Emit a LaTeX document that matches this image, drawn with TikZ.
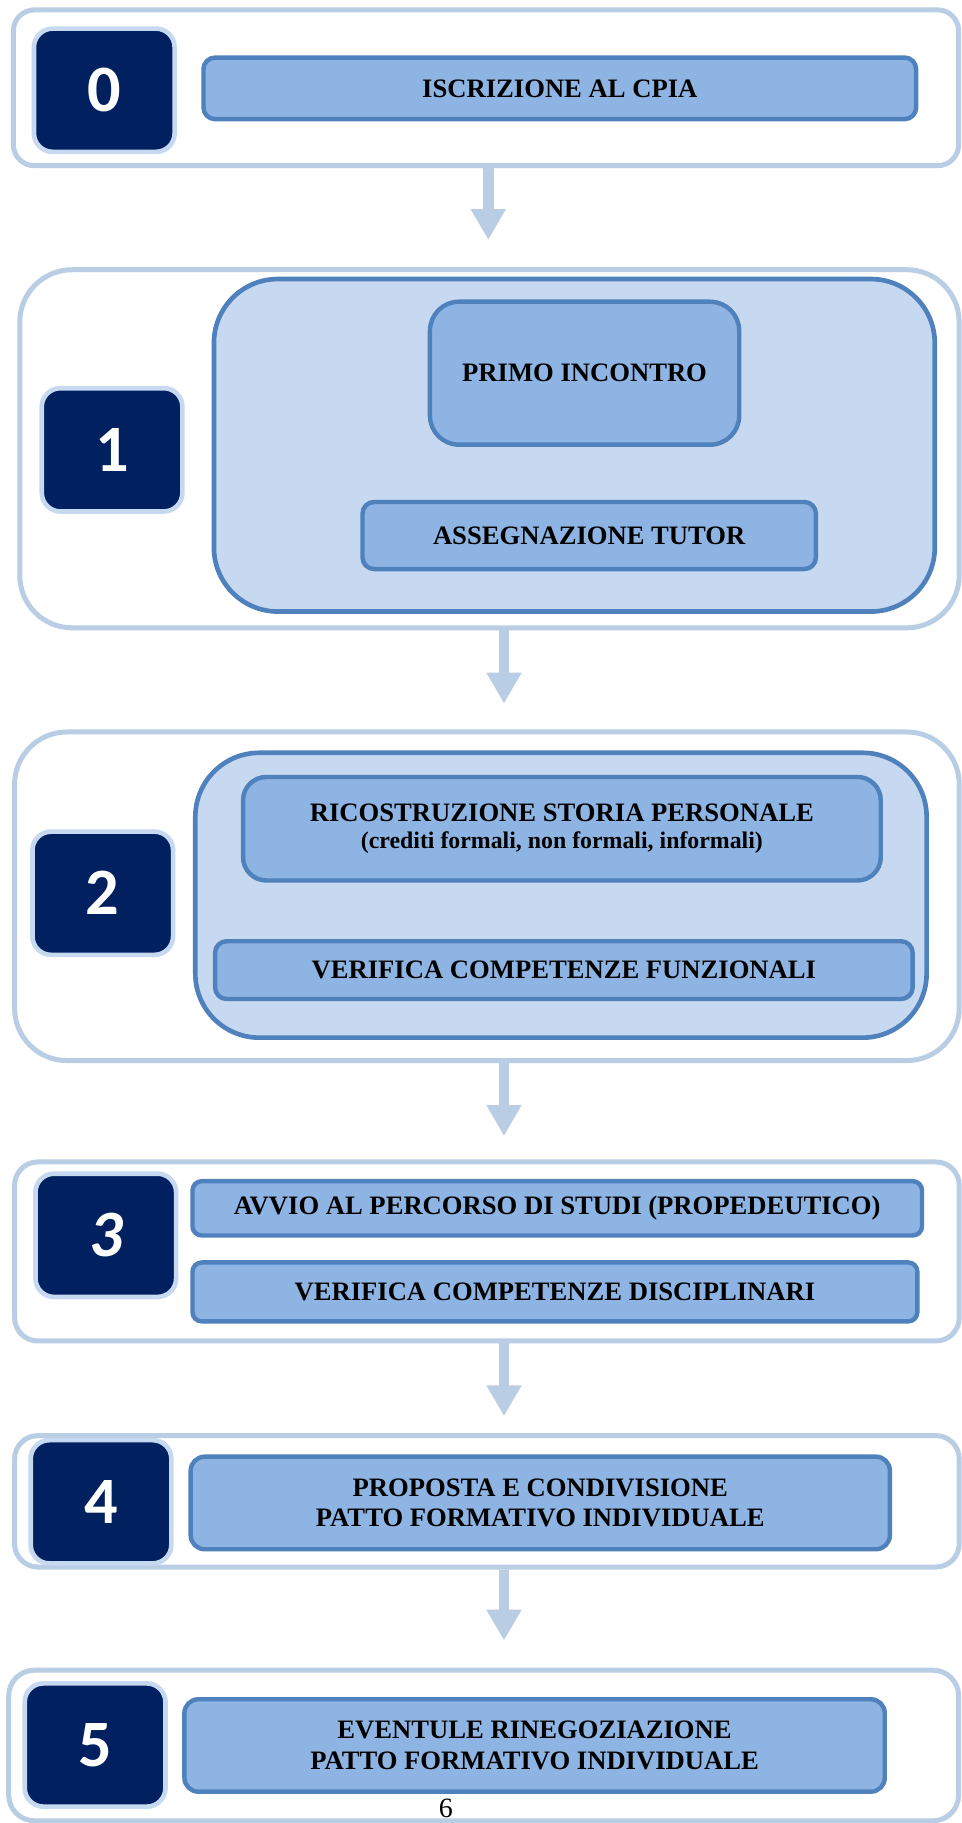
\documentclass[tikz,border=0pt]{standalone}
\usepackage{fontspec}
\setmainfont{Liberation Serif}
\newfontfamily\numfont{Carlito}
\usetikzlibrary{arrows.meta}
\definecolor{outerc}{HTML}{B9CDE5}
\definecolor{navy}{HTML}{002060}
\definecolor{glow}{HTML}{C6D9F1}
\definecolor{lblfill}{HTML}{8EB4E3}
\definecolor{lbldraw}{HTML}{4F81BD}
\definecolor{innerfill}{HTML}{C6D9F1}
\begin{document}
\begin{tikzpicture}[x=1pt,y=-1pt,
  box/.style={rectangle, inner sep=0pt, anchor=center},
  outerbox/.style={box, draw=outerc, fill=white, line width=4.3pt},
  innerbox/.style={box, draw=lbldraw, fill=innerfill, line width=4pt, rounded corners=55pt},
  numbox/.style={box, draw=glow, fill=navy, line width=4pt, rounded corners=16pt, text=white, minimum width=121pt, minimum height=106pt, font=\numfont\bfseries\fontsize{57}{57}\selectfont},
  lbl/.style={box, draw=lbldraw, fill=lblfill, line width=3.8pt, align=center, font=\bfseries\fontsize{22.9}{26}\selectfont},
  arr/.style={draw=outerc, line width=9pt, -{Triangle[width=28.5pt,length=26.5pt]}},
]
\useasboundingbox (0,0) rectangle (827,1568);

% ---------- step 0
\node[outerbox, rounded corners=18pt, minimum width=813pt, minimum height=134pt] (o0) at (418,75.5) {};
\node[lbl, rounded corners=10pt, minimum width=613pt, minimum height=53pt] (l0) at (481.5,76) {ISCRIZIONE AL CPIA};
\node[numbox] (n0) at (89.7,77.6) {0};

% ---------- step 1
\node[outerbox, rounded corners=45pt, minimum width=808pt, minimum height=308pt] (o1) at (421,386) {};
\node[innerbox, minimum width=620pt, minimum height=286pt] (i1) at (494,383) {};
\node[lbl, rounded corners=25pt, minimum width=266pt, minimum height=123pt] (l1a) at (502.8,321) {PRIMO INCONTRO};
\node[lbl, rounded corners=10pt, minimum width=390pt, minimum height=57.7pt] (l1b) at (506.8,460.6) {ASSEGNAZIONE TUTOR};
\node[numbox] (n1) at (96.4,386.9) {1};

% ---------- step 2
\node[outerbox, rounded corners=45pt, minimum width=812.5pt, minimum height=282.6pt] (o2) at (418.8,770.9) {};
\node[innerbox, minimum width=629pt, minimum height=245pt] (i2) at (482.5,770) {};
\node[lbl, rounded corners=20pt, minimum width=548.5pt, minimum height=89pt] (l2a) at (483.3,712.8) {RICOSTRUZIONE STORIA PERSONALE\\[-2pt]{\fontsize{20.5}{22}\selectfont (crediti formali, non formali, informali)}};
\node[lbl, rounded corners=10pt, minimum width=600pt, minimum height=49.7pt] (l2b) at (485,834.4) {VERIFICA COMPETENZE FUNZIONALI};
\node[numbox] (n2) at (88.4,768.3) {2};

% ---------- step 3
\node[outerbox, rounded corners=20pt, minimum width=812.5pt, minimum height=154pt] (o3) at (418.8,1076.4) {};
\node[lbl, rounded corners=8pt, minimum width=627.5pt, minimum height=46.7pt] (l3a) at (479.3,1039.3) {AVVIO AL PERCORSO DI STUDI (PROPEDEUTICO)};
\node[lbl, rounded corners=8pt, minimum width=623.5pt, minimum height=50.7pt] (l3b) at (477.3,1111.2) {VERIFICA COMPETENZE DISCIPLINARI};
\node[numbox] (n3) at (91,1062.5) {\itshape 3};

% ---------- step 4
\node[outerbox, rounded corners=20pt, minimum width=812.5pt, minimum height=113pt] (o4) at (418.8,1291.3) {};
\node[lbl, rounded corners=12pt, minimum width=601.4pt, minimum height=79.6pt] (l4) at (464.7,1292.7) {PROPOSTA E CONDIVISIONE\\PATTO FORMATIVO INDIVIDUALE};
\node[numbox] (n4) at (86.9,1291.7) {4};

% ---------- step 5
\node[outerbox, rounded corners=22pt, minimum width=817pt, minimum height=129.5pt] (o5) at (416,1501.3) {};
\node[lbl, rounded corners=12pt, minimum width=602.4pt, minimum height=79.5pt] (l5) at (459.8,1501.3) {EVENTULE RINEGOZIAZIONE\\PATTO FORMATIVO INDIVIDUALE};
\node[numbox] (n5) at (81.8,1500.9) {5};
\node[font=\fontsize{24}{24}\selectfont, inner sep=0pt] (pg) at (383.4,1555.7) {6};

% ---------- arrows
\coordinate (t0) at (420,206.3);
\coordinate (t1) at (433.5,605);
\coordinate (t2) at (433.5,977);
\coordinate (t3) at (433.5,1218);
\coordinate (t4) at (433.5,1411);
\draw[arr] (o0.south -| t0) -- (t0);
\draw[arr] (o1.south -| t1) -- (t1);
\draw[arr] (o2.south -| t2) -- (t2);
\draw[arr] (o3.south -| t3) -- (t3);
\draw[arr] (o4.south -| t4) -- (t4);
\end{tikzpicture}
\end{document}
